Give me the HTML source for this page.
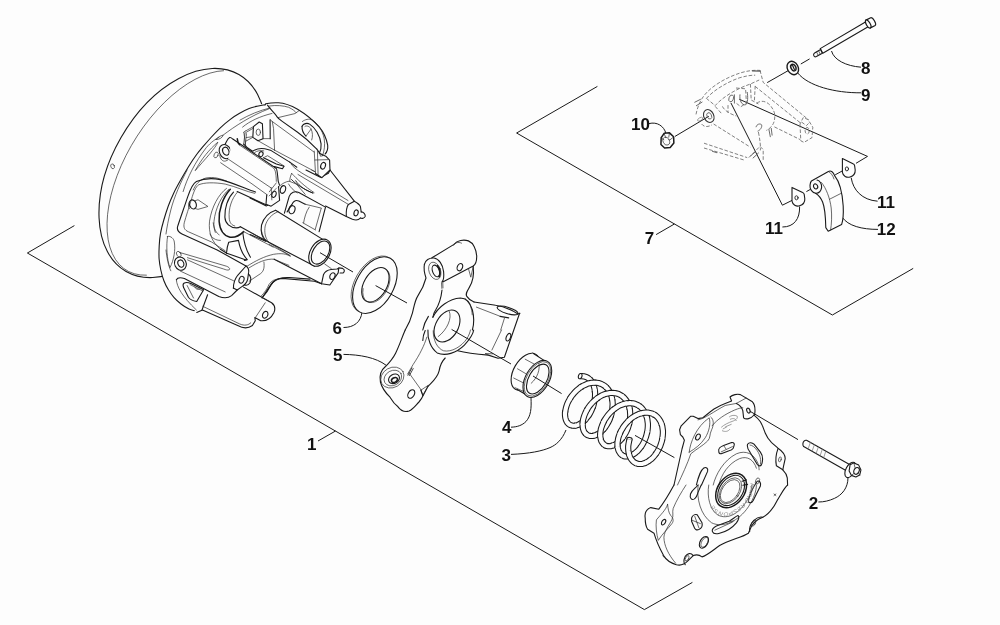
<!DOCTYPE html>
<html><head><meta charset="utf-8"><title>Parts diagram</title>
<style>
html,body{margin:0;padding:0;background:#fdfdfd;}
svg{display:block}
.k,.t,.w,.wt,.l,.g{vector-effect:non-scaling-stroke}
.k{fill:none;stroke:#1a1a1a;stroke-width:1.1;stroke-linecap:round;stroke-linejoin:round}
.t{fill:none;stroke:#2a2a2a;stroke-width:0.7;stroke-linecap:round;stroke-linejoin:round}
.w{fill:#fdfdfd;stroke:#1a1a1a;stroke-width:1.1;stroke-linecap:round;stroke-linejoin:round}
.wt{fill:#fdfdfd;stroke:#2a2a2a;stroke-width:0.7;stroke-linejoin:round}
.g{fill:none;stroke:#9a9a9a;stroke-width:0.8;stroke-dasharray:3 1.5}
.l{fill:none;stroke:#1a1a1a;stroke-width:1}
text{font-family:"Liberation Sans",sans-serif;font-weight:bold;font-size:17px;fill:#111}
</style></head><body>
<svg width="1000" height="625" viewBox="0 0 1000 625">
<rect width="1000" height="625" fill="#fdfdfd"/>
<g id="brackets" class="l">
<path d="M74.4 225.6 L27.4 253 L644.4 609.6 L692.4 582.4"/>
<path d="M597.4 86.4 L516.6 133 L832.4 315 L913.2 268.4"/>
</g>
<g id="labels" style="filter:grayscale(1)">
<text x="307" y="450">1</text>
<text x="808.7" y="508.5">2</text>
<text x="501.5" y="461">3</text>
<text x="502" y="433">4</text>
<text x="333" y="361">5</text>
<text x="332.5" y="333.5">6</text>
<text x="644.7" y="244">7</text>
<text x="861" y="74">8</text>
<text x="861" y="101">9</text>
<text x="631" y="130">10</text>
<text x="877" y="208">11</text>
<text x="765" y="234">11</text>
<text x="876.8" y="234.6">12</text>
</g>
<g id="leaders" class="l">
<path d="M566 430 C562 440 556 445 550 447.6 C542 451 530 453.6 511 454.4"/>
<path d="M343.5 354.4 C360 354.6 376 357.6 386 365.2"/>
<path d="M318 441 L335.5 431"/>
<path d="M656.1 234.6 L674.4 224"/>
<path d="M343.5 327.5 C354 327.5 361 322 362 312"/>
<path d="M649 123.6 C657 121.5 664 126 666 133.6"/>
<path d="M675 136.4 L708.8 116.3"/>
<path d="M767.2 82.6 L790 69.6"/>
<path d="M800.8 64 L809.6 58.9"/>
<path d="M861 67.2 C846 66 834 60 831.5 51"/>
<path d="M861 92.8 C835 93 808 86 797.6 72.8"/>
<path d="M739.2 99.2 L867.5 156.4 L856 163.3"/>
<path d="M730.9 102.9 L782.4 205.2 L796 198.4"/>
<path d="M806.4 191.6 L812.8 188"/>
<path d="M835.2 174.8 L846 168.9"/>
<path d="M877.6 201.2 C862 200 853 190 851.2 177.7"/>
<path d="M782.4 227 C794 227 800 219 799.6 206.5"/>
<path d="M878 229.4 C862 229.4 848 226 842 217"/>
</g>
<g id="sheave">
<g id="disc">
<ellipse class="w" cx="182.5" cy="173" rx="113.5" ry="71" transform="rotate(-60.2 182.5 173)"/>
<path class="t" d="M223.6 70.7 A113.7 60.1 -59.0 1 0 146.4 275.2"/>
<ellipse class="t" cx="112.6" cy="166.3" rx="1.8" ry="2.5" transform="rotate(-20 112.6 166.3)"/>
</g>
<g id="housingfill">
<ellipse cx="237.7" cy="208.2" rx="111.2" ry="67.2" transform="rotate(-64.5 237.7 208.2)" fill="#fdfdfd" stroke="none"/>
<path d="M262 105 L300 104 L328 130 L330 160 L362 212 L355 222 L300 300 L320 330 L300 345 L200 312 Z" fill="#fdfdfd" stroke="none"/>
<path d="M265.6 104.6 C264.2 104.9 259.8 105.5 257.1 106.2 C254.3 106.9 252.1 107.4 249.1 108.6 C246.1 109.8 242.3 111.8 239.2 113.6 C236.0 115.4 233.1 117.2 230.0 119.6 C226.8 122.0 223.5 124.8 220.3 127.8 C217.2 130.8 213.8 134.4 211.0 137.5 C208.2 140.6 205.8 143.4 203.4 146.2 C201.1 149.0 199.3 150.8 196.8 154.3 C194.2 157.8 190.9 162.8 188.3 167.0 C185.7 171.2 183.5 175.0 181.1 179.3 C178.7 183.6 175.9 188.5 173.8 193.0 C171.7 197.5 169.9 201.7 168.2 206.2 C166.6 210.7 165.1 215.5 163.8 220.0 C162.5 224.5 161.3 229.0 160.5 233.3 C159.7 237.6 159.4 241.8 159.2 246.0 C159.0 250.2 158.8 254.7 159.1 258.7 C159.4 262.7 160.0 266.3 160.8 270.0 C161.6 273.7 162.6 277.4 163.9 280.7 C165.2 284.0 166.7 287.0 168.4 289.8 C170.1 292.6 172.0 295.3 174.1 297.7 C176.2 300.1 178.5 302.1 181.0 304.0 C183.5 305.9 186.8 308.0 189.0 309.1 C191.2 310.2 193.3 310.4 194.2 310.6 Z" fill="#fdfdfd" stroke="none"/>
<path class="k" d="M265.6 104.6 C264.2 104.9 259.8 105.5 257.1 106.2 C254.3 106.9 252.1 107.4 249.1 108.6 C246.1 109.8 242.3 111.8 239.2 113.6 C236.0 115.4 233.1 117.2 230.0 119.6 C226.8 122.0 223.5 124.8 220.3 127.8 C217.2 130.8 213.8 134.4 211.0 137.5 C208.2 140.6 205.8 143.4 203.4 146.2 C201.1 149.0 199.3 150.8 196.8 154.3 C194.2 157.8 190.9 162.8 188.3 167.0 C185.7 171.2 183.5 175.0 181.1 179.3 C178.7 183.6 175.9 188.5 173.8 193.0 C171.7 197.5 169.9 201.7 168.2 206.2 C166.6 210.7 165.1 215.5 163.8 220.0 C162.5 224.5 161.3 229.0 160.5 233.3 C159.7 237.6 159.4 241.8 159.2 246.0 C159.0 250.2 158.8 254.7 159.1 258.7 C159.4 262.7 160.0 266.3 160.8 270.0 C161.6 273.7 162.6 277.4 163.9 280.7 C165.2 284.0 166.7 287.0 168.4 289.8 C170.1 292.6 172.0 295.3 174.1 297.7 C176.2 300.1 178.5 302.1 181.0 304.0 C183.5 305.9 186.8 308.0 189.0 309.1 C191.2 310.2 193.3 310.4 194.2 310.6"/>
</g>
<!-- T1 origin (150,90) scale .16 -->
<g transform="translate(150,90) scale(0.16)">
<g transform="translate(12,10)">
<path class="t" d="M195,625 C220,540 270,440 340,350 C370,315 400,295 420,285 M445,272 C520,215 620,150 730,108"/>
<path class="t" d="M272,492 C310,420 360,360 412,316 C400,350 330,425 272,492 Z"/>
<path class="t" d="M400,300 C410,285 430,275 445,272 C440,290 420,300 400,300"/>
</g>
<ellipse class="k" cx="470" cy="385" rx="36" ry="46" transform="rotate(-25 470 385)"/>
<ellipse class="k" cx="474" cy="383" rx="19" ry="26" transform="rotate(-25 474 383)"/>
<ellipse class="t" cx="413" cy="406" rx="12" ry="19" transform="rotate(25 413 406)"/>
<path class="t" d="M436,410 C440,435 455,448 472,444 C485,440 495,432 500,425"/>
<path class="t" d="M270,625 C285,590 310,560 350,550 C400,540 440,555 480,570"/>
</g>
<!-- T3 origin (150,170) scale .16 -->
<g transform="translate(150,170) scale(0.16)">
<path class="t" d="M232,0 C195,70 150,170 130,250 C115,310 105,360 100,400"/>
<path class="t" d="M110,415 C130,410 150,430 152,450 C160,500 150,560 125,610 C105,560 100,470 110,415 Z"/>
<ellipse class="k" cx="190" cy="585" rx="36" ry="42" transform="rotate(-25 190 585)"/>
<ellipse class="k" cx="193" cy="585" rx="18" ry="23" transform="rotate(-25 193 585)"/>
<ellipse class="t" cx="180" cy="526" rx="13" ry="19" transform="rotate(-30 180 526)"/>
<path class="k" d="M660,138 C600,118 520,80 440,60 C390,50 330,55 290,72 C265,85 250,125 235,170 C215,230 190,300 172,355 C168,375 178,390 200,400 L420,500 L600,600"/>
<path class="t" d="M655,146 C600,135 540,105 470,88 C400,76 340,78 305,92 C285,104 272,140 260,180 C245,230 225,290 214,330 C208,360 215,375 240,386 L385,450 L470,505"/>
<ellipse class="k" cx="268" cy="215" rx="21" ry="29" transform="rotate(-20 268 215)"/>
<path class="t" d="M250,195 C238,205 236,230 248,243"/>
<path class="t" d="M282,192 L300,186 L362,228 L300,246 L280,240"/>
<path class="t" d="M478,115 C430,150 385,230 372,320 C365,390 385,450 440,495"/>
<path class="t" d="M492,122 C448,160 408,240 400,320 C398,345 400,370 408,390"/>
<path class="k" d="M502,120 C455,170 428,250 432,320 C436,370 460,410 500,420 C540,425 570,400 585,385" style="stroke-width:1.5"/>
<path class="k" d="M522,138 C485,175 465,240 468,295 C470,335 500,360 540,362 C550,362 560,358 565,355"/>
<path class="t" d="M545,140 C510,180 490,240 495,300 C497,330 510,345 530,350"/>
<path class="k" d="M545,135 L735,222 M565,355 L720,440"/>
<path class="t" d="M585,385 L770,482 M640,396 L840,500"/>
<path class="k" d="M478,520 C480,490 485,470 492,452 L553,440 C560,480 580,530 608,560 L590,565"/>
<path class="k" d="M580,392 C585,440 600,500 628,545"/>
<path class="t" d="M375,400 C385,425 410,440 440,440 M395,330 C400,370 415,395 432,405"/>
<path class="k" d="M440,495 L480,520 L600,562"/>
</g>
<!-- T5 origin (150,250) scale .16 -->
<g transform="translate(150,250) scale(0.16)">
<path d="M292,390 L328,375 L548,472 C580,490 615,490 640,472 L658,442 L655,422 L692,442 C730,446 760,420 775,390 C785,365 780,345 760,330 L585,232 L360,280 Z" fill="#fdfdfd" stroke="none"/>
<path class="k" d="M292,390 L328,375 L548,472 C580,490 615,490 640,472 L658,442 L655,422 L692,442 C730,446 760,420 775,390 C785,365 780,345 760,330 L585,232"/>
<path class="t" d="M100,0 C105,50 115,100 130,130"/>
<path class="k" d="M165,186 C170,175 190,170 215,178 L430,290 C460,302 490,300 510,285 L545,250"/>
<path class="t" d="M165,188 C168,230 200,290 290,375"/>
<path class="k" d="M600,100 C615,110 620,130 615,150 L610,185 C605,205 590,220 570,232 L545,250 L520,238"/>
<path class="k" d="M600,100 L548,158 C535,175 520,195 522,238"/>
<ellipse class="k" cx="572" cy="186" rx="15" ry="22" transform="rotate(20 572 186)"/>
<path class="t" d="M184,15 L477,101 C495,107 503,118 495,124 C485,128 472,123 461,119 L234,48"/>
<path class="t" d="M235,62 L522,192 M190,132 L470,262"/>
<path class="k" d="M212,208 C225,200 240,203 255,210 L335,248 L292,322 C270,318 250,310 240,295 L210,235 C205,222 206,212 212,208 Z"/>
<path class="t" d="M232,222 L272,300 M250,216 L330,256 M280,232 C285,245 300,250 310,244"/>
<path class="k" d="M360,280 L325,375"/>
<path class="t" d="M330,352 L560,462 C590,475 615,470 630,455 M720,330 L660,420 M700,298 L745,322"/>
<ellipse class="k" cx="720" cy="405" rx="16" ry="22" transform="rotate(25 720 405)"/>
<path class="k" d="M615,150 C630,160 635,185 625,205 C615,220 600,222 590,218"/>
<path class="k" d="M705,292 C730,260 750,215 775,195 C800,175 830,170 870,172 L1000,182"/>
</g>
<!-- T4 origin (250,170) scale .16 -->
<g transform="translate(250,170) scale(0.16)">
<!-- tower1 long arm -->
<path d="M500,0 L652,195 L690,228 L695,262 L720,290 L690,300 L640,308 L602,290 L470,222 L300,60 Z" fill="#fdfdfd" stroke="none"/>
<path class="k" d="M500,0 L652,195 C670,205 685,215 690,228 L695,262"/>
<path class="k" d="M695,262 C710,262 722,275 720,290 C715,302 700,305 690,300"/>
<path class="k" d="M652,195 L615,215 C605,230 600,260 602,290 L640,308 C660,315 680,312 690,300"/>
<ellipse class="k" cx="663" cy="268" rx="13" ry="19" transform="rotate(15 663 268)"/>
<path class="t" d="M615,215 L300,28"/>
<path class="k" d="M602,290 L472,225"/>
<path class="k" d="M350,0 L440,45 L490,20 L500,0"/>
<path class="t" d="M385,0 L412,14"/>
<!-- arch bracket -->
<path d="M215,270 L245,165 C255,140 280,130 305,140 L472,232 L432,385 Z" fill="#fdfdfd" stroke="none"/>
<path class="k" d="M215,270 L245,165 C255,140 280,130 305,140 L472,232 L432,385"/>
<path class="k" d="M232,262 L262,215 C272,195 288,186 305,194 L345,214"/>
<path class="t" d="M345,214 L445,238 M370,232 C350,260 340,300 335,330 M445,240 L408,370 M330,330 L410,375"/>
<ellipse class="k" cx="262" cy="248" rx="19" ry="26" transform="rotate(15 262 248)"/>
<!-- tube -->
<path d="M160,252 L452,432 L505,480 L480,570 L405,602 L100,442 L72,345 Z" fill="#fdfdfd" stroke="none"/>
<path class="k" d="M160,252 C120,265 85,300 72,345 C65,385 75,425 100,442"/>
<path class="t" d="M176,260 C136,275 105,310 95,350 C88,390 95,425 116,450"/>
<path class="k" d="M160,252 L452,432 M100,442 L405,602"/>
<ellipse class="w" cx="437" cy="517" rx="60" ry="92" transform="rotate(31 437 517)"/>
<ellipse class="k" cx="441" cy="516" rx="48" ry="79" transform="rotate(31 441 516)"/>
<path class="t" d="M120,465 L250,535"/>
<!-- tower2 end block -->
<path class="w" d="M105,150 L165,92 L178,98 L185,190 L132,226 L100,214 Z"/>
<ellipse class="k" cx="150" cy="152" rx="13" ry="20" transform="rotate(20 150 152)"/>
<path class="t" d="M120,162 L166,112"/>
<ellipse class="k" cx="206" cy="122" rx="16" ry="25" transform="rotate(20 206 122)"/>
<path class="t" d="M185,100 C200,85 225,72 245,70 L290,88 L345,152"/>
<path class="k" d="M0,175 L102,225 M0,403 L98,446"/>
</g>
<!-- crop C1 origin (240,90) scale .128 -->
<g transform="translate(240,90) scale(0.128)">
<path class="k" d="M200,108 C240,100 270,98 300,100 C350,103 400,122 450,150 C500,180 580,245 620,290 C650,325 675,380 685,430 C688,460 680,485 665,500"/>
<path class="t" d="M0,235 C70,195 150,160 235,140"/>
<path class="t" d="M20,290 C80,240 160,205 250,183"/>
<path class="k" d="M215,118 C235,150 270,175 290,210 C300,225 315,235 330,245 L450,330 C500,365 565,425 600,462"/>
<path class="t" d="M300,215 L430,184 L460,162"/>
<path class="t" d="M230,125 C280,117 340,122 380,135 C410,150 430,165 440,178"/>
<path class="k" d="M235,232 L236,380"/>
<path class="t" d="M236,232 L252,246 L588,492 M252,246 L262,300 L270,470"/>
<path class="t" d="M270,470 L590,640"/>
<path class="k" d="M105,286 L150,250 L175,264 L180,380 L140,396 L100,370 Z"/>
<ellipse class="t" cx="143" cy="330" rx="17" ry="25"/>
<path class="t" d="M40,322 L105,286 M30,330 L45,440 M40,322 L30,330 M100,370 L45,400 M180,380 L236,380 M140,396 L270,470"/>
<path d="M580,477 L600,462 L625,497 L670,517 L700,547 L703,625 L640,685 L590,652 Z" fill="#fdfdfd" stroke="none"/>
<path class="k" d="M600,462 L625,497 L670,517 L700,547 L703,625 L640,685 L590,652"/>
<path class="t" d="M580,477 L590,652 M605,477 L610,660 M585,547 L690,544 M625,497 L650,512 L632,517 Z"/>
<ellipse class="k" cx="649" cy="592" rx="18" ry="27" transform="rotate(20 649 592)"/>
</g>
<!-- H1 origin (280,95) scale .104 -->
<g transform="translate(280,95) scale(0.104)">
<path class="t" d="M215,255 C240,235 280,225 310,240 C360,270 410,340 425,420 C435,480 425,540 410,580"/>
<path class="k" d="M212,300 C225,275 260,265 285,280 C340,315 385,390 395,470 C398,510 390,540 378,562"/>
<path class="k" d="M212,300 C210,330 225,370 250,395"/>
<path class="t" d="M240,302 C258,288 285,305 300,326 L252,392 M300,330 C315,360 316,400 305,432"/>
</g>
</g>
<!-- crop C3 origin (230,230) scale .128 -->
<g transform="translate(230,230) scale(0.128)">
<path class="t" d="M130,285 C200,240 270,205 340,190 C400,180 440,185 470,205"/>
<path class="t" d="M150,295 C215,255 280,222 345,228"/>
<path class="k" d="M345,228 L715,420"/>
<path class="t" d="M360,236 L460,276 M300,95 L470,200"/>
<path class="t" d="M245,0 C250,40 270,80 300,95"/>
<path class="t" d="M265,250 C270,290 265,320 240,340 L150,400"/>
<path class="w" d="M715,420 L730,350 C740,325 760,312 790,308 L835,305 L850,298 L845,335 L800,400 L780,430 Z"/>
<ellipse class="k" cx="800" cy="360" rx="19" ry="27" transform="rotate(25 800 360)"/>
<path class="k" d="M850,296 L880,300 C895,305 898,325 885,335 L860,336"/>
<path class="t" d="M740,266 L792,302"/>
<path class="k" d="M250,530 C280,500 300,470 320,430 C340,395 370,380 410,378 L660,400 L715,420"/>
<path class="t" d="M240,520 C270,490 290,460 305,425 C325,395 350,385 380,382"/>
</g>
<!-- M1 origin (220,125) scale .128 -->
<g transform="translate(220,125) scale(0.128)">
<!-- back stuff -->
<path class="t" d="M200,60 L260,25 M195,65 L185,150 M207,68 L198,150 M205,98 L250,92"/>
<path class="k" d="M185,150 C200,170 225,190 255,205 C285,185 320,180 350,186 C370,190 385,195 400,200 L545,290"/>
<path class="t" d="M270,215 C290,200 320,196 342,202"/>
<ellipse class="k" cx="320" cy="228" rx="16" ry="20" transform="rotate(20 320 228)"/>
<path class="t" d="M350,250 L372,240 L500,320"/>
<path class="k" d="M340,255 L440,305 L500,322 L488,342 L425,325 L420,336"/>
<path class="k" d="M545,290 L600,330"/>
<path class="t" d="M555,305 C580,340 640,380 720,420 L1000,590"/>
<path class="t" d="M560,378 C600,420 660,480 735,528 M545,440 C545,415 552,395 560,378"/>
<!-- arm 2 -->
<path d="M75,98 L100,110 L440,340 L465,470 L368,545 L80,350 L62,265 L80,200 Z" fill="#fdfdfd" stroke="none"/>
<path class="k" d="M40,150 C55,120 60,105 75,98 C85,95 92,102 100,110 L440,340 C448,350 450,400 455,440 L465,470"/>
<path class="t" d="M150,155 L410,330 C430,345 438,360 440,440"/>
<path class="k" d="M135,108 L142,140 L152,152" style="stroke-width:1.5"/>
<path class="t" d="M62,265 L400,492 M5,295 L250,460 L368,545"/>
<path class="t" d="M400,490 L405,585 M385,522 L440,452"/>
</g>
<g transform="translate(255,175) scale(0.128)">
<path class="k" d="M285,35 C320,75 390,115 455,142 C405,125 345,90 318,45" style="stroke-width:.9"/>
<path class="t" d="M262,70 C275,95 300,120 330,140"/>
</g>
<g id="washer6">
<ellipse class="wt" cx="373.4" cy="284.2" rx="18.6" ry="30.9" transform="rotate(30 373.2 284.2)"/>
<ellipse class="w" cx="374.9" cy="285.1" rx="18.6" ry="30.9" transform="rotate(30 374.9 285.1)"/>
<ellipse class="k" cx="375.4" cy="284.8" rx="11.5" ry="18.8" transform="rotate(30 375.4 284.8)"/>
<path class="t" d="M387.4 270.4 A11.5 18.8 30.0 1 1 363.1 288.6"/>
</g>
<g id="spider">
<!-- P1 origin (390,230) scale .16 -->
<g transform="translate(390,230) scale(0.16)">
<path class="k" d="M215,215 C220,190 245,172 275,175 C305,180 330,215 335,260 C338,290 335,315 325,325"/>
<path class="k" d="M215,215 C210,240 215,270 225,300 C215,340 195,380 175,410 C155,440 150,480 140,520 C130,560 110,600 95,625"/>
<path class="k" d="M262,174 L400,90 C420,65 460,58 490,68 C520,80 540,120 542,165 C542,195 535,215 520,225 L330,325"/>
<path class="t" d="M398,95 C405,80 425,72 447,82"/>
<ellipse class="t" cx="280" cy="255" rx="36" ry="56" transform="rotate(-20 280 255)"/>
<ellipse class="k" cx="287" cy="256" rx="21" ry="38" transform="rotate(-20 287 256)"/>
<path class="k" d="M296,222 C312,240 318,270 308,292" style="stroke-width:1.6"/>
<ellipse class="k" cx="437" cy="232" rx="16" ry="24" transform="rotate(25 437 232)"/>
<path class="t" d="M490,240 L505,295 L520,228"/>
<path class="k" d="M520,228 C525,270 520,320 495,360 C480,385 470,400 480,415 C490,430 510,445 525,450"/>
<path class="t" d="M322,330 L324,365 M330,332 L331,362"/>
<path class="k" d="M325,375 C320,420 310,460 285,500 C275,515 270,530 268,545"/>
<path class="k" d="M268,545 C300,480 370,430 440,425 C470,425 500,450 515,500 C525,540 525,590 515,625"/>
<path class="t" d="M470,428 C498,450 512,490 514,530"/>
<path class="k" d="M240,540 C220,570 210,600 205,625"/>
<path class="k" d="M525,450 L660,470 C700,475 760,500 800,525 L812,520"/>
<ellipse class="k" cx="735" cy="503" rx="68" ry="20" transform="rotate(17 735 503)"/>
<path class="t" d="M540,482 L690,540 M715,552 L692,625"/>
<path class="k" d="M688,540 L742,549"/>
</g>
<!-- P2 origin (370,310) scale .16 -->
<g transform="translate(370,310) scale(0.16)">
<path class="k" d="M220,125 C200,170 185,220 160,270 C140,310 110,340 95,355 C70,375 58,410 65,450 C75,490 100,520 125,545 C140,570 155,590 175,605 C190,625 215,640 244,631 C270,620 290,590 306,575 C320,560 330,540 337,525 L362,478"/>
<ellipse class="t" cx="140" cy="422" rx="76" ry="62" transform="rotate(-30 140 422)"/>
<ellipse class="t" cx="143" cy="425" rx="58" ry="46" transform="rotate(-30 143 425)"/>
<ellipse class="k" cx="150" cy="430" rx="36" ry="28" transform="rotate(-30 150 430)"/>
<ellipse class="k" cx="153" cy="437" rx="20" ry="14" transform="rotate(-30 153 437)" style="stroke-width:1.5"/>
<path class="k" d="M470,300 C450,320 438,345 432,380 C425,410 400,440 375,465 L362,478"/>
<path class="k" d="M362,125 C358,180 380,240 420,268 C470,290 540,270 590,220 C630,175 645,150 648,125"/>
<path class="t" d="M395,130 C395,190 420,240 460,255 C510,265 570,230 605,180 C618,160 625,140 628,125"/>
<path class="t" d="M355,170 C340,220 310,280 270,340 L235,400"/>
<path class="k" d="M345,128 C335,150 330,170 330,190"/>
<path class="k" d="M935,20 L840,295 L800,302 L740,282 C680,277 600,268 548,255"/>
<path class="t" d="M740,282 L720,272 L768,274 M822,125 L762,250"/>
<ellipse class="k" cx="865" cy="170" rx="13" ry="25" transform="rotate(20 865 170)"/>
<path class="k" d="M262,362 L237,408 M270,366 L246,410" style="stroke-width:.8"/>
<path class="t" d="M245,395 L320,500"/>
<ellipse class="k" cx="258" cy="525" rx="19" ry="29" transform="rotate(30 258 525)"/>
<path class="t" d="M320,500 L365,470 L332,530 Z"/>
<path class="k" d="M318,500 L330,535"/>
</g>
<ellipse class="k" cx="447" cy="326" rx="11.2" ry="17.3" transform="rotate(30 447 326)"/>
<path class="t" d="M449.2 311.2 C452.5 318 447 330 438.2 336.6"/>
</g>
<g id="bushing4">
<!-- B1 origin (490,340) scale .128 -->
<g transform="translate(490,340) scale(0.128)">
<ellipse class="w" cx="277" cy="248" rx="92" ry="158" transform="rotate(30 277 248)"/>
<path d="M330,100 L425,162 L315,448 L215,388 Z" fill="#fdfdfd" stroke="none"/>
<path class="k" d="M333,102 L428,163 M213,386 L312,446"/>
<path class="t" d="M275,150 L345,188 M215,225 L278,262 M185,297 L255,332 M195,372 L262,402"/>
<ellipse class="w" cx="370" cy="304" rx="92" ry="158" transform="rotate(30 370 304)"/>
<ellipse class="t" cx="371" cy="304" rx="84" ry="148" transform="rotate(30 371 304)"/>
<ellipse class="k" cx="373" cy="305" rx="70" ry="128" transform="rotate(30 373 305)"/>
<path class="t" d="M382,182 C392,230 372,295 322,338"/>
</g>
<path class="l" d="M531 398 C531.5 408 531 416 526 421.5 C522 425.5 517 427 511 427.2"/>
</g>
<g id="spring3">
<style>.so{fill:none;stroke:#1a1a1a;stroke-width:39;stroke-linecap:butt;stroke-linejoin:round}.si{fill:none;stroke:#fdfdfd;stroke-width:26;stroke-linecap:butt;stroke-linejoin:round}</style>
<g transform="translate(545,360) scale(0.16)">
<path class="so" d="M220,101L231,101L242,102L252,105L261,108L270,113L277,119L285,126"/><path class="si" d="M220,101L231,101L242,102L252,105L261,108L270,113L277,119L285,126"/>
<path class="so" d="M280,121L287,129L294,137L300,147L304,159L308,173L311,187L312,202"/><path class="si" d="M276,117L280,121L287,129L294,137L300,147L304,159L308,173L311,187L312,202"/>
<path class="so" d="M312,193L313,208L313,223L312,239L309,255L306,270L302,286L296,300"/><path class="si" d="M311,185L312,193L313,208L313,223L312,239L309,255L306,270L302,286L296,300"/>
<path class="so" d="M300,291L294,306L288,320L281,334L273,347L264,358L255,369L246,379"/><path class="si" d="M302,284L300,291L294,306L288,320L281,334L273,347L264,358L255,369L246,379"/>
<path class="so" d="M252,373L242,382L232,391L222,397L212,403L202,407L193,410L183,411"/><path class="si" d="M256,368L252,373L242,382L232,391L222,397L212,403L202,407L193,410L183,411"/>
<path class="so" d="M189,410L180,411L171,410L163,408L155,405L148,400L142,394L136,387"/><path class="si" d="M194,409L189,410L180,411L171,410L163,408L155,405L148,400L142,394L136,387"/>
<path class="so" d="M140,391L135,384L131,375L128,365L126,354L125,343L125,330L127,318"/><path class="si" d="M143,395L140,391L135,384L131,375L128,365L126,354L125,343L125,330L127,318"/>
<path class="so" d="M126,326L128,313L131,299L135,286L140,272L146,259L154,245L162,232"/><path class="si" d="M125,332L126,326L128,313L131,299L135,286L140,272L146,259L154,245L162,232"/>
<path class="so" d="M157,240L165,227L175,215L185,203L196,192L208,182L220,172L233,164"/><path class="si" d="M153,247L157,240L165,227L175,215L185,203L196,192L208,182L220,172L233,164"/>
<path class="so" d="M225,169L238,161L251,155L264,149L278,145L291,143L304,142L317,142"/><path class="si" d="M219,173L225,169L238,161L251,155L264,149L278,145L291,143L304,142L317,142"/>
<path class="so" d="M309,142L322,142L335,144L347,148L358,153L369,159L379,167L388,176"/><path class="si" d="M303,142L309,142L322,142L335,144L347,148L358,153L369,159L379,167L388,176"/>
<path class="so" d="M382,170L391,179L399,190L405,201L411,214L416,227L419,241L421,256"/><path class="si" d="M377,166L382,170L391,179L399,190L405,201L411,214L416,227L419,241L421,256"/>
<path class="so" d="M420,246L422,261L423,276L422,292L421,307L418,323L415,339L410,354"/><path class="si" d="M419,239L420,246L422,261L423,276L422,292L421,307L418,323L415,339L410,354"/>
<path class="so" d="M413,344L408,360L403,374L396,388L388,402L380,414L372,426L363,436"/><path class="si" d="M415,337L413,344L408,360L403,374L396,388L388,402L380,414L372,426L363,436"/>
<path class="so" d="M368,430L359,440L349,449L340,457L330,463L320,468L310,472L300,474"/><path class="si" d="M373,424L368,430L359,440L349,449L340,457L330,463L320,468L310,472L300,474"/>
<path class="so" d="M306,473L296,475L287,475L279,474L270,471L263,468L256,462L250,456"/><path class="si" d="M311,471L306,473L296,475L287,475L279,474L270,471L263,468L256,462L250,456"/>
<path class="so" d="M254,460L248,453L243,445L240,436L237,426L236,415L235,403L236,391"/><path class="si" d="M257,463L254,460L248,453L243,445L240,436L237,426L236,415L235,403L236,391"/>
<path class="so" d="M235,399L236,386L238,373L242,359L246,346L252,332L258,319L266,305"/><path class="si" d="M235,405L235,399L236,386L238,373L242,359L246,346L252,332L258,319L266,305"/>
<path class="so" d="M261,314L269,300L278,287L288,275L298,264L310,253L322,243L334,234"/><path class="si" d="M257,320L261,314L269,300L278,287L288,275L298,264L310,253L322,243L334,234"/>
<path class="so" d="M326,239L339,231L352,223L365,217L378,212L392,209L405,206L418,206"/><path class="si" d="M320,244L326,239L339,231L352,223L365,217L378,212L392,209L405,206L418,206"/>
<path class="so" d="M410,206L423,206L436,207L448,209L460,213L471,219L482,225L491,233"/><path class="si" d="M403,207L410,206L423,206L436,207L448,209L460,213L471,219L482,225L491,233"/>
<path class="so" d="M485,228L495,237L503,246L511,257L517,269L522,281L527,295L530,309"/><path class="si" d="M480,224L485,228L495,237L503,246L511,257L517,269L522,281L527,295L530,309"/>
<path class="so" d="M528,300L531,315L532,330L533,345L532,360L530,376L528,392L524,407"/><path class="si" d="M526,293L528,300L531,315L532,330L533,345L532,360L530,376L528,392L524,407"/>
<path class="so" d="M526,397L522,413L517,428L511,442L504,456L496,469L488,481L479,493"/><path class="si" d="M528,389L526,397L522,413L517,428L511,442L504,456L496,469L488,481L479,493"/>
<path class="so" d="M485,486L476,497L466,507L457,515L447,523L437,529L427,533L417,537"/><path class="si" d="M489,480L485,486L476,497L466,507L457,515L447,523L437,529L427,533L417,537"/>
<path class="so" d="M423,535L413,538L404,539L395,539L386,537L378,535L371,530L364,525"/><path class="si" d="M428,533L423,535L413,538L404,539L395,539L386,537L378,535L371,530L364,525"/>
<path class="so" d="M368,528L362,522L357,515L352,507L349,497L347,487L345,476L345,464"/><path class="si" d="M372,531L368,528L362,522L357,515L352,507L349,497L347,487L345,476L345,464"/>
<path class="so" d="M345,471L345,459L347,446L349,433L353,420L358,406L364,392L370,379"/><path class="si" d="M345,477L345,471L345,459L347,446L349,433L353,420L358,406L364,392L370,379"/>
<path class="so" d="M366,387L373,374L382,361L391,348L401,336L412,324L423,314L435,304"/><path class="si" d="M363,394L366,387L373,374L382,361L391,348L401,336L412,324L423,314L435,304"/>
<path class="so" d="M428,310L440,301L452,293L465,285L479,280L492,275L505,272L519,270"/><path class="si" d="M421,315L428,310L440,301L452,293L465,285L479,280L492,275L505,272L519,270"/>
<path class="so" d="M511,271L524,270L537,270L549,271L562,274L573,279L584,284L594,291"/><path class="si" d="M504,272L511,271L524,270L537,270L549,271L562,274L573,279L584,284L594,291"/>
<path class="so" d="M588,287L598,294L607,303L615,313L622,324L629,336L634,349L638,363"/><path class="si" d="M583,284L588,287L598,294L607,303L615,313L622,324L629,336L634,349L638,363"/>
<path class="so" d="M635,354L639,368L641,383L643,398L643,413L642,429L640,444L637,460"/><path class="si" d="M633,347L635,354L639,368L641,383L643,398L643,413L642,429L640,444L637,460"/>
<path class="so" d="M639,450L635,466L631,481L625,496L619,510L612,524L604,537L596,549"/><path class="si" d="M640,442L639,450L635,466L631,481L625,496L619,510L612,524L604,537L596,549"/>
<path class="so" d="M601,541L592,553L583,564L574,573L564,581L554,588L544,594L534,598"/><path class="si" d="M605,535L601,541L592,553L583,564L574,573L564,581L554,588L544,594L534,598"/>
<path class="so" d="M540,596L530,600L521,602L511,603L502,603L494,601L486,597L479,593"/><path class="si" d="M545,593L540,596L530,600L521,602L511,603L502,603L494,601L486,597L479,593"/>
<path class="so" d="M483,596L476,591L470,584L465,576L460,567L457,558L454,547L453,535"/><path class="si" d="M487,598L483,596L476,591L470,584L465,576L460,567L457,558L454,547L453,535"/>
<path class="so" d="M454,542L453,531L453,518L455,505L457,492L461,478L466,464L472,450"/><path class="si" d="M455,548L454,542L453,531L453,518L455,505L457,492L461,478L466,464L472,450"/>
<path class="so" d="M468,459L474,445L482,432L490,418L499,406L509,394L520,382L531,372"/><path class="si" d="M465,466L468,459L474,445L482,432L490,418L499,406L509,394L520,382L531,372"/>
<path class="so" d="M524,378L535,368L547,359L560,351L573,344L586,338L599,334L612,331"/><path class="si" d="M518,384L524,378L535,368L547,359L560,351L573,344L586,338L599,334L612,331"/>
<path class="so" d="M604,333L617,330L630,329L643,329L655,331L667,334L678,339L688,345"/><path class="si" d="M597,334L604,333L617,330L630,329L643,329L655,331L667,334L678,339L688,345"/>
<path class="so" d="M682,341L692,347L701,355L709,364L716,374L722,384L727,396L731,409"/><path class="si" d="M676,338L682,341L692,347L701,355L709,364L716,374L722,384L727,396L731,409"/>
<path class="so" d="M729,401L733,414L735,428L737,442L737,457L736,472L734,487L731,502"/><path class="si" d="M727,395L729,401L733,414L735,428L737,442L737,457L736,472L734,487L731,502"/>
<path class="so" d="M733,493L730,508L725,523L720,538L713,552L706,566L698,579L689,591"/><path class="si" d="M734,485L733,493L730,508L725,523L720,538L713,552L706,566L698,579L689,591"/>
<path class="so" d="M695,584L686,596L677,607L667,617L656,625L646,633L635,639L625,644"/><path class="si" d="M699,577L695,584L686,596L677,607L667,617L656,625L646,633L635,639L625,644"/>
<path class="so" d="M631,641L621,646L610,649L600,650L590,650L580,649L571,646L563,642"/><path class="si" d="M637,638L631,641L621,646L610,649L600,650L590,650L580,649L571,646L563,642"/>
<path class="so" d="M568,645L560,640L551,634L544,626L537,617L532,607L527,596L524,584"/><path class="si" d="M573,647L568,645L560,640L551,634L544,626L537,617L532,607L527,596L524,584"/>
<path class="so" d="M526,592L523,580L521,567L520,553L520,539L522,525L525,510L528,496"/><path class="si" d="M528,598L526,592L523,580L521,567L520,553L520,539L522,525L525,510L528,496"/>
<ellipse class="w" cx="220" cy="101" rx="11" ry="17" transform="rotate(20 220 101)"/><path class="k" d="M511,496 a17,12 0 0 1 34,0" transform="rotate(5 528 496)"/>
</g>
</g>
<g id="cover">
<!-- V1 origin (650,385) scale .16 -->
<g transform="translate(650,385) scale(0.16)">
<path class="k" d="M150,625 L200,400 L215,345 L205,325 L190,310 L185,280 L195,255 L255,195 L270,195 L300,210 L330,205 C350,190 375,168 400,150 C425,135 450,122 470,115 L510,100 L500,75 C515,60 545,55 565,60 L640,105 C655,120 658,150 655,178 L650,188 C665,200 680,215 690,230 C705,255 712,280 720,300 C730,325 745,345 760,360 L800,395 C830,415 845,440 845,460 L835,505 L830,530 C845,545 855,560 858,580 L860,625"/>
<path class="t" d="M540,115 L600,82"/>
<path class="k" d="M540,115 C560,125 575,140 580,160 L585,205 C600,218 630,212 652,186"/>
<ellipse class="k" cx="615" cy="160" rx="10" ry="16" transform="rotate(-20 615 160)"/>
<path class="t" d="M245,420 C250,360 290,260 370,205 C380,240 370,290 345,330 C320,370 280,400 245,420 Z"/>
<ellipse class="k" cx="300" cy="325" rx="13" ry="20" transform="rotate(30 300 325)"/>
<path class="t" d="M380,200 C400,215 400,250 385,280 C370,310 380,330 360,350 C330,380 290,400 255,430 C235,490 200,565 172,625"/>
<path class="t" d="M300,218 C340,212 400,165 470,128 L540,115"/>
<path class="t" d="M388,255 C420,215 470,182 530,156 C555,146 570,142 580,142"/>
<g fill="none" stroke="#888" stroke-width="5">
<path d="M445,265 C460,250 490,235 520,225 C540,218 550,205 545,195 C530,185 505,190 495,200"/>
<path d="M450,285 C470,295 490,290 500,275 M500,215 C520,205 535,210 540,225 M470,262 L510,245 M455,275 L480,262"/>
</g>
<path class="k" d="M430,415 C425,400 440,385 460,378 L510,360 C525,358 530,368 525,380 L520,395 C515,405 500,410 490,412 L445,430 C435,430 430,425 430,415 Z"/>
<path class="t" d="M445,418 L515,385 M460,378 L475,400"/>
<path class="k" d="M610,370 C620,355 640,360 650,370 L690,420 C705,440 705,470 700,490 C695,510 680,510 670,495 L625,420 C610,400 605,385 610,370 Z"/>
<path class="t" d="M625,375 C640,375 655,390 670,410 C690,440 695,470 690,495"/>
<path class="k" d="M335,520 C350,510 365,520 360,540 L322,625 M335,520 C320,530 300,580 290,625"/>
<path class="t" d="M395,625 C410,560 460,470 540,430 C600,405 650,430 675,490 C680,510 682,520 682,530"/>
<path class="t" d="M430,625 C445,560 490,490 560,460 C610,440 650,470 665,520"/>
<path class="k" d="M800,398 C788,430 783,470 790,505 L830,530"/>
<ellipse class="t" cx="812" cy="465" rx="8" ry="16" transform="rotate(15 812 465)"/>
<ellipse class="t" cx="672" cy="600" rx="12" ry="20" transform="rotate(20 672 600)"/>
</g>
<!-- V2 origin (630,470) scale .16 -->
<g transform="translate(630,470) scale(0.16)">
<path class="k" d="M275,94 C250,140 215,200 180,245 L130,235 C105,245 90,270 95,300 C95,335 100,355 110,370 L150,395 C160,430 180,480 210,535 C225,560 250,580 290,592 C320,600 340,590 360,570 L395,535 C420,525 440,535 450,543 C480,535 520,500 560,472 C620,435 700,422 740,395 L750,372 C765,332 800,305 830,295 C870,275 900,230 920,190 C945,150 965,110 985,94"/>
<path class="k" d="M830,295 C810,290 790,300 775,315 C755,335 745,360 748,385"/>
<ellipse class="t" cx="772" cy="332" rx="11" ry="22" transform="rotate(30 772 332)"/>
<path class="k" d="M395,535 C380,515 360,520 345,540 C335,560 335,580 345,592"/>
<ellipse class="t" cx="357" cy="552" rx="9" ry="19" transform="rotate(30 357 552)"/>
<path class="t" d="M350,94 C320,140 290,190 270,240 C262,265 275,285 262,310 C245,345 215,380 212,420 C212,470 240,530 285,582"/>
<path class="t" d="M235,215 C225,250 190,280 165,312 C160,350 165,400 177,440 C200,400 240,365 262,335 C275,318 270,300 255,285 C240,265 238,240 235,215 Z"/>
<ellipse class="k" cx="210" cy="326" rx="11" ry="19" transform="rotate(30 210 326)"/>
<path class="k" d="M425,94 C410,115 390,120 378,150 C372,175 385,190 400,182 C412,175 420,160 425,140 L445,94"/>
<path class="k" d="M795,70 C810,65 820,80 815,100 L770,190 C760,210 740,210 740,190 C745,170 760,120 795,70 Z"/>
<path class="k" d="M515,385 C510,370 520,360 540,350 L620,320 C640,310 660,290 675,285 C685,290 680,310 665,330 C640,360 600,385 560,395 C535,402 520,398 515,385 Z"/>
<path class="t" d="M530,376 L640,326 M625,322 L650,318"/>
<path class="k" d="M385,300 C390,285 405,275 420,280 L450,330 C455,350 445,365 430,372 C415,378 405,370 400,355 L385,320 Z"/>
<path class="t" d="M405,290 L430,360 M390,315 L440,335"/>
<ellipse class="k" cx="462" cy="452" rx="24" ry="40" transform="rotate(30 462 452)"/>
<ellipse class="t" cx="466" cy="452" rx="18" ry="34" transform="rotate(30 466 452)"/>
<path class="t" d="M426,94 C415,180 440,280 510,330 C580,365 680,320 740,230 C775,175 790,130 790,94"/>
<path class="t" d="M492,94 C480,170 500,250 550,282 C610,312 680,272 725,200 C750,160 760,125 762,94"/>
<ellipse class="k" cx="632" cy="128" rx="84" ry="118" transform="rotate(35 632 128)" style="stroke-width:1.5"/>
<ellipse class="k" cx="632" cy="128" rx="72" ry="104" transform="rotate(35 632 128)"/>
<ellipse class="t" cx="628" cy="130" rx="58" ry="90" transform="rotate(35 628 130)"/>
<ellipse class="t" cx="626" cy="132" rx="50" ry="80" transform="rotate(35 626 132)"/>
<path id="tp" d="M752.2 80.8 A105.0 147.0 35.0 0 1 516.0 204.2" fill="none" stroke="none"/>
<g style="filter:grayscale(1)"><text style="font-size:34px;font-weight:normal;fill:#8a8a8a;font-style:italic" textLength="360" lengthAdjust="spacingAndGlyphs"><textPath href="#tp">RAPID RESPONSE</textPath></text></g>
<path class="k" d="M700,70 L728,62 M705,95 L735,90"/>
<path class="t" d="M900,150 L912,160 M912,150 L900,160"/>
<path class="t" d="M205,535 L212,545"/>
</g>
</g>
<g id="bolt2">
<g transform="translate(780,420) scale(0.16)">
<path class="w" d="M166,127 L432,276 L412,316 L148,166 C140,158 142,140 150,132 C155,127 160,125 166,127 Z"/>
<path class="t" d="M190,140 L176,180 M215,154 L201,194 M240,168 L226,208 M265,182 L251,222 M286,196 L274,232" style="stroke:#777"/>
<ellipse class="w" cx="440" cy="312" rx="28" ry="52" transform="rotate(28 440 312)"/>
<path class="w" d="M438,280 L462,268 L492,282 L506,312 L498,344 L474,356 L446,346 L432,318 Z"/>
<ellipse class="k" cx="478" cy="318" rx="16" ry="22" transform="rotate(28 478 318)"/>
<path class="t" d="M462,268 L468,296 M446,346 L462,334 M498,344 L490,332"/>
</g>
<path class="l" d="M848 477.6 C848 488 842 495 834.4 498.4 C829 500.8 824 502 818.4 502"/>
</g>
<g id="bolt8">
<path class="w" d="M866.3 21.5 L820.2 48.6 L822.8 53.2 L869 26.2 Z"/>
<path class="w" d="M820.6 49.6 L814.6 53 C812.6 54.2 813.8 57.6 816.4 56.6 L822.3 53.2 Z"/>
<path class="t" d="M818.6 50.8 L820.2 54.2 M816.6 52 L818.2 55.4"/>
<g transform="translate(760,0) scale(0.16)">
<path class="w" d="M662,126 L692,111 A12 28 -30 0 1 720,159 L690,174 Z" style="stroke-width:1.25"/>
<ellipse class="w" cx="676" cy="150" rx="12" ry="28" transform="rotate(-30 676 150)" style="stroke-width:1.25"/>
</g>
</g>
<g id="washer9">
<ellipse class="w" cx="792.8" cy="68" rx="5.4" ry="7" transform="rotate(-28 792.8 68)" style="stroke-width:1.4"/>
<ellipse class="w" cx="793.4" cy="67.6" rx="2.4" ry="3.5" transform="rotate(-28 793.4 67.6)" style="stroke-width:1.5"/>
<path class="k" d="M792.6 65.6 L794.4 69.4" style="stroke-width:1.2"/>
</g>
<g id="nut10" transform="translate(667.4 140.4) scale(1.22) translate(-667.3 -140.2)" style="stroke-width:1.3">
<path class="w" style="stroke-width:1.5" d="M662.2 138 L664.6 134.4 L669 134 L672.4 137.2 L672.6 142.4 L669.6 146 L665 146.4 L662 143.6 Z"/>
<ellipse class="t" cx="666.4" cy="140.8" rx="2.6" ry="3.4" transform="rotate(-25 666.4 140.8)"/>
<path class="t" d="M664.6 134.6 L666 138 M669 134.2 L668.4 137.6 M672.4 137.4 L669.6 139.6 M662.2 138.2 L664.4 139.6"/>
</g>
<g id="tabs11">
<path class="w" d="M842.4 158.6 L842.4 172.4 C843 176 846.6 178 850 177 C853.4 176 855.4 173.4 855.2 170 L854.6 165.6 C854.4 164.6 854 164.2 853 163.8 Z"/>
<ellipse class="k" cx="846.9" cy="168.9" rx="1.6" ry="2" style="stroke-width:0.9"/>
<path class="w" d="M792 187.4 L792 201.2 C792.6 204.8 796.2 206.8 799.6 205.8 C803 204.8 805 202.2 804.8 198.8 L804.2 194.4 C804 193.4 803.6 193 802.6 192.6 Z"/>
<ellipse class="k" cx="796.5" cy="197.8" rx="1.6" ry="2" style="stroke-width:0.9"/>
</g>
<g id="weight12">
<path class="w" d="M811.4 181 L828.4 171.4 C831 170.2 833.4 172 834.6 175.6 C839 181 842.4 193 843.2 206 C843.6 214 842.8 221 841.6 224.6 L828.2 231.2 L825.8 227.6 C825.6 218 825 208 822.6 202 C821 198.2 818.4 195 815.6 193.2 C812 192.6 809.6 189 810 185.4 C810.2 183.4 810.6 181.8 811.4 181 Z"/>
<path class="t" d="M821.6 182.6 C826 188 830 198 831.2 208 C832 216 831.6 224 830.6 230"/>
<path class="t" d="M829.6 199.2 L840.6 193.6"/>
<path class="k" d="M815.6 193.2 C818.6 193.4 821 191 821.6 187.6 C822 184 820 180.6 817 180"/>
<path class="t" d="M828.4 171.4 C830.4 172.4 833 175.4 834 179"/>
<ellipse class="k" cx="815.6" cy="186.4" rx="2" ry="2.6" transform="rotate(-25 815.6 186.4)"/>
</g>
<g id="ghost">
<style>.gd{fill:none;stroke:#6a6a6a;stroke-width:.85;stroke-dasharray:3.6 1.8;vector-effect:non-scaling-stroke}.gs{fill:none;stroke:#5a5a5a;stroke-width:.9;vector-effect:non-scaling-stroke}</style>
<g transform="translate(680,60) scale(0.16)">
<path class="gd" d="M100,340 C110,290 130,240 170,200 C220,150 300,105 380,80 C420,68 460,62 500,65"/>
<path class="gd" d="M165,240 C210,190 290,140 370,112 C410,100 440,95 470,95"/>
<path class="gd" d="M165,240 L220,285 C260,240 320,200 400,165 L440,150 L495,125"/>
<path class="gd" d="M500,65 L520,140 L805,375 M470,165 L755,395"/>
<path class="gd" d="M750,400 L755,505 L775,515 L825,485 L830,420 L800,372 L770,360 Z M760,388 L790,410 L812,388"/>
<ellipse class="gd" cx="795" cy="442" rx="13" ry="20"/>
<path class="gd" d="M590,418 L752,498"/>
<path class="gd" d="M480,270 C520,240 570,270 590,330 C600,380 580,420 540,440"/>
<path class="gd" d="M350,175 L410,180 L415,270 L380,292 L345,265 M440,150 L445,250 L490,275 M470,162 L465,255"/>
<path class="gd" d="M210,400 L440,545 M220,290 L260,335 M265,290 C280,320 320,340 352,350 M300,282 L300,330"/>
<path class="gd" d="M150,520 L420,610 M150,550 L400,625"/>
<path class="gd" d="M430,610 L500,540 L520,560 L520,625 M490,450 C500,500 505,540 502,565"/>
<path class="gd" d="M135,400 C150,420 175,420 200,405"/>
<path class="gs" d="M340,215 L340,272"/>
<ellipse class="gs" cx="320" cy="240" rx="14" ry="22" transform="rotate(20 320 240)"/>
<path class="gs" d="M375,215 C370,250 385,285 410,280 C425,270 425,230 420,200"/>
<ellipse class="gs" cx="180" cy="350" rx="31" ry="42" transform="rotate(-25 180 350)" style="stroke:#333;stroke-width:1.1"/>
<ellipse class="gs" cx="183" cy="349" rx="14" ry="21" transform="rotate(-25 183 349)"/>
<ellipse class="gs" cx="126" cy="370" rx="18" ry="9" transform="rotate(-30 126 370)" style="stroke-width:.6"/>
<path class="gs" d="M475,420 C480,400 500,395 510,405 C515,420 500,440 485,445 M555,430 L565,482 M570,425 L576,472"/>
<path class="gs" d="M90,265 L130,245 M100,287 L140,262 M200,570 L232,580 M440,600 L470,575 M455,614 L492,580"/>
<path class="gs" d="M450,68 L505,70" style="stroke-width:1.3"/>
</g>
</g>
<g id="axis" class="l">
<path d="M320 252.7 L353 272"/>
<path d="M375.6 285.6 L407 303"/>
<path d="M451.6 329.4 L511 364"/>
<path d="M533 376 L561.6 393.6"/>
<path d="M635 435.4 L674.4 457.6"/>
<path d="M749.6 411 L798 439.6"/>
</g>
</svg>
</body></html>
